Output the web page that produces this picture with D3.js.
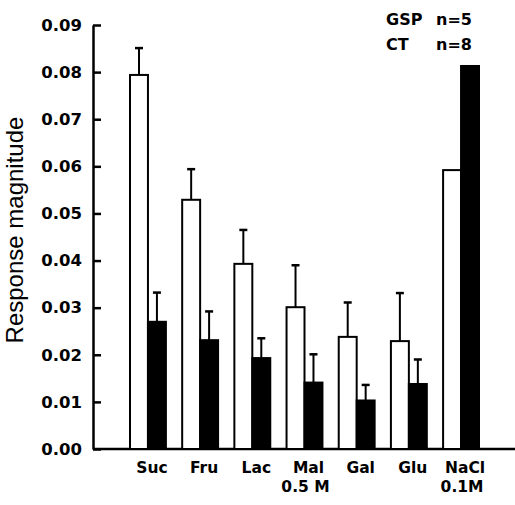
<!DOCTYPE html>
<html>
<head>
<meta charset="utf-8">
<script src="https://cdn.jsdelivr.net/npm/d3@7"></script>
<style>
  body { margin: 0; background: #fff; }
  svg { display: block; }
</style>
</head>
<body>
<div id="chart"></div>
<script>
var categories = ["Suc", "Fru", "Lac", "Mal", "Gal", "Glu", "NaCl"];
var subLabels = ["", "", "", "0.5 M", "", "", "0.1M"];
var series = ["GSP", "CT"];
var gspValues = [0.0794, 0.0529, 0.0393, 0.0301, 0.0238, 0.0229, 0.0592];
var gspErrors = [0.0057, 0.0065, 0.0072, 0.0089, 0.0073, 0.0102, 0];
var ctValues = [0.0270, 0.0231, 0.0193, 0.0141, 0.0103, 0.0138, 0.0813];
var ctErrors = [0.0062, 0.0061, 0.0042, 0.0060, 0.0033, 0.0052, 0];
var yTicks = [0, 0.01, 0.02, 0.03, 0.04, 0.05, 0.06, 0.07, 0.08, 0.09];
var legendLines = [["GSP", "n=5"], ["CT", "n=8"]];

var width = 515, height = 505;
var axisX = 93, baseY = 449, topY = 25;

var svg = d3.select("#chart")
  .append("svg")
    .attr("width", width)
    .attr("height", height);

var y = d3.scaleLinear()
  .domain([0, 0.09])
  .range([baseY, topY]);

var x0 = d3.scaleBand()
  .domain(categories)
  .range([130, 479])
  .paddingInner(0.312)
  .paddingOuter(0);

var x1 = d3.scaleBand()
  .domain(series)
  .range([0, x0.bandwidth()]);

var rows = categories.map(function(c, i) {
  return [
    {cat: c, key: "GSP", value: gspValues[i], err: gspErrors[i]},
    {cat: c, key: "CT", value: ctValues[i], err: ctErrors[i]}
  ];
});
var bars = [].concat.apply([], rows);

// y axis, ticks pointing inward
var yAxis = svg.append("g")
  .attr("transform", "translate(" + axisX + ",0)")
  .call(d3.axisLeft(y)
    .tickValues(yTicks)
    .tickFormat(d3.format(".2f"))
    .tickSizeInner(-8)
    .tickSizeOuter(0)
    .tickPadding(11));
yAxis.select(".domain").attr("stroke-width", 2.5);
yAxis.selectAll(".tick line").attr("stroke-width", 2.5);
yAxis.selectAll("text")
  .attr("font-family", "DejaVu Sans")
  .attr("font-weight", "bold")
  .attr("font-size", "16.5px")
  .attr("fill", "#000");

// x axis baseline
svg.append("line")
  .attr("x1", axisX)
  .attr("x2", width)
  .attr("y1", y(0))
  .attr("y2", y(0))
  .attr("stroke", "#000")
  .attr("stroke-width", 2.5);

// bars
svg.selectAll("rect.bar")
  .data(bars)
  .enter()
  .append("rect")
    .attr("class", "bar")
    .attr("x", function(d) { return x0(d.cat) + x1(d.key); })
    .attr("width", x1.bandwidth())
    .attr("y", function(d) { return y(d.value); })
    .attr("height", function(d) { return y(0) - y(d.value); })
    .attr("fill", function(d) { return d.key == "GSP" ? "#fff" : "#000"; })
    .attr("stroke", "#000")
    .attr("stroke-width", 2);

// error bars (upper only)
var errs = bars.filter(function(d) { return d.err > 0; });
svg.selectAll("line.err")
  .data(errs)
  .enter()
  .append("line")
    .attr("class", "err")
    .attr("x1", function(d) { return x0(d.cat) + x1(d.key) + x1.bandwidth() / 2; })
    .attr("x2", function(d) { return x0(d.cat) + x1(d.key) + x1.bandwidth() / 2; })
    .attr("y1", function(d) { return y(d.value); })
    .attr("y2", function(d) { return y(d.value + d.err); })
    .attr("stroke", "#000")
    .attr("stroke-width", 2);

svg.selectAll("line.cap")
  .data(errs)
  .enter()
  .append("line")
    .attr("class", "cap")
    .attr("x1", function(d) { return x0(d.cat) + x1(d.key) + x1.bandwidth() / 2 - 4; })
    .attr("x2", function(d) { return x0(d.cat) + x1(d.key) + x1.bandwidth() / 2 + 4; })
    .attr("y1", function(d) { return y(d.value + d.err); })
    .attr("y2", function(d) { return y(d.value + d.err); })
    .attr("stroke", "#000")
    .attr("stroke-width", 2.5);

// category labels
svg.selectAll("text.cat")
  .data(categories)
  .enter()
  .append("text")
    .attr("class", "cat")
    .attr("x", function(d) { return x0(d) + x0.bandwidth() / 2 + 4; })
    .attr("y", 473)
    .attr("text-anchor", "middle")
    .attr("font-family", "DejaVu Sans")
    .attr("font-weight", "bold")
    .attr("font-size", "15.5px")
    .text(function(d) { return d; });

svg.selectAll("text.sub")
  .data(categories)
  .enter()
  .append("text")
    .attr("class", "sub")
    .attr("x", function(d) { return x0(d) + x0.bandwidth() / 2 + 1; })
    .attr("y", 492)
    .attr("text-anchor", "middle")
    .attr("font-family", "DejaVu Sans")
    .attr("font-weight", "bold")
    .attr("font-size", "15.5px")
    .text(function(d, i) { return subLabels[i]; });

// y title
svg.append("text")
  .attr("transform", "translate(23," + ((topY + baseY) / 2 - 7) + ") rotate(-90)")
  .attr("text-anchor", "middle")
  .attr("font-family", "Liberation Sans, Arial, sans-serif")
  .attr("font-size", "24px")
  .text("Response magnitude");

// legend
var legend = svg.selectAll("g.legend")
  .data(legendLines)
  .enter()
  .append("g")
    .attr("class", "legend")
    .attr("transform", function(d, i) { return "translate(0," + (25 + i * 25) + ")"; });
legend.append("text")
  .attr("x", 386)
  .attr("font-family", "DejaVu Sans")
  .attr("font-weight", "bold")
  .attr("font-size", "16px")
  .text(function(d) { return d[0]; });
legend.append("text")
  .attr("x", 472)
  .attr("text-anchor", "end")
  .attr("font-family", "DejaVu Sans")
  .attr("font-weight", "bold")
  .attr("font-size", "16px")
  .text(function(d) { return d[1]; });
</script>
</body>
</html>
